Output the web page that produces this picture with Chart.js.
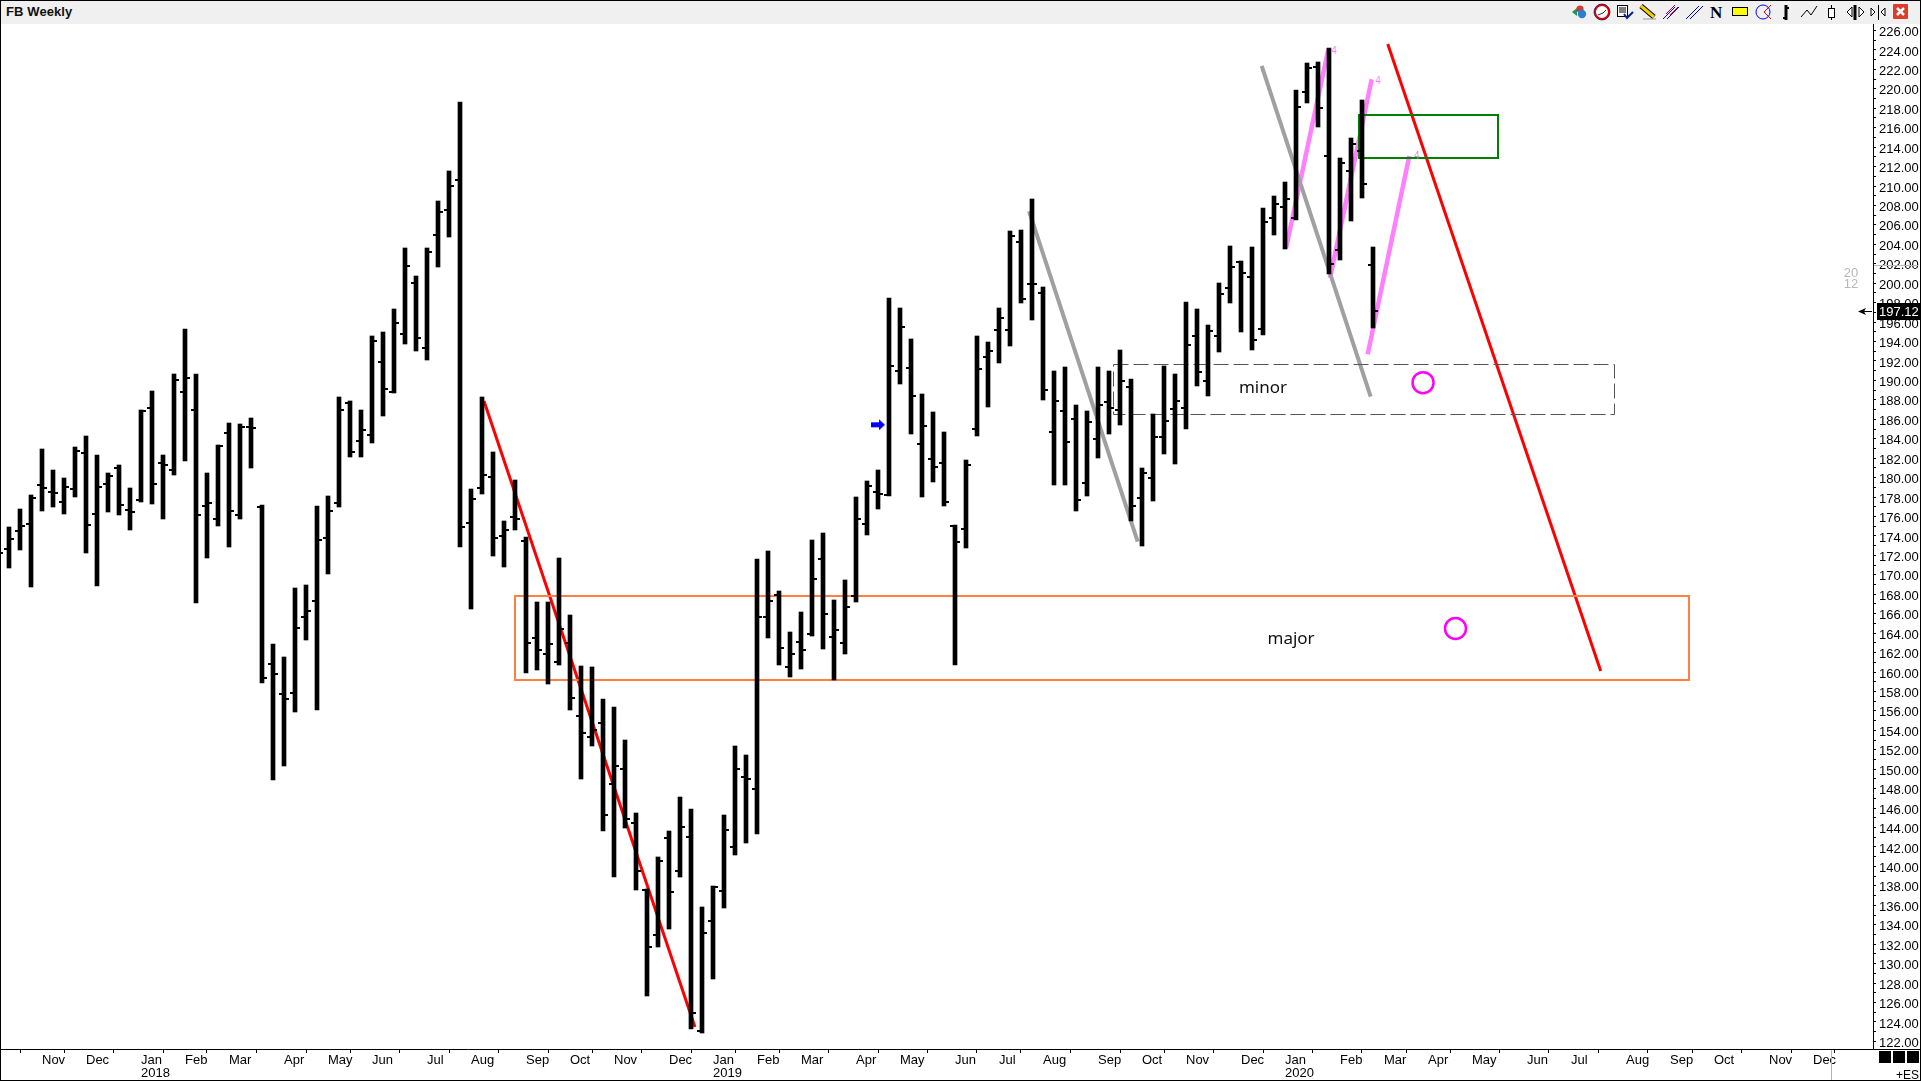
<!DOCTYPE html>
<html>
<head>
<meta charset="utf-8">
<title>FB Weekly</title>
<script src="https://cdn.jsdelivr.net/npm/chart.js@4/dist/chart.umd.min.js"></script>
<style>
  html, body { margin:0; padding:0; background:#fff; overflow:hidden; }
  #wrap { position:relative; width:1921px; height:1081px; }
  #chart { position:absolute; left:0; top:0; }
  .abs { position:absolute; }
  #head { left:0; top:0; width:1921px; height:24px; background:#f0f0f0; }
  #title { left:6px; top:4px; font:bold 13px "Liberation Sans", sans-serif; letter-spacing:.1px; color:#111; }
  #frame { left:0; top:0; width:1921px; height:1081px; box-sizing:border-box; border:1px solid #000; pointer-events:none; }
  #es { right:2px; top:1068px; font:12px "Liberation Sans", sans-serif; color:#000; }
</style>
</head>
<body>
<div id="wrap">
  <canvas id="chart" width="1921" height="1081"></canvas>
  <div id="head" class="abs"></div>
  <div id="title" class="abs">FB Weekly</div>
  <svg class="abs" style="left:0;top:0" width="1921" height="24">
    <!-- toolbar -->
    <path d="M1572 12l5-4v8z" fill="#1a9a4a"/><circle cx="1580" cy="9" r="3.6" fill="#d23a3a"/><circle cx="1582" cy="14" r="4.2" fill="#2a7fd0"/>
    <circle cx="1602" cy="12" r="7" fill="#fff" stroke="#e00000" stroke-width="2"/><circle cx="1602" cy="12" r="8" fill="none" stroke="#101060" stroke-width=".7"/><path d="M1598 15l5-2 3-3" fill="none" stroke="#333"/>
    <rect x="1617.5" y="5.5" width="10" height="11" fill="#fff" stroke="#000"/><path d="M1619 8h7M1619 10h7M1619 12h7" stroke="#000"/><path d="M1624 14l3 4 6-6" fill="none" stroke="#0b1f8a" stroke-width="2"/>
    <path d="M1641 6l13 11" stroke="#000" stroke-width="5"/><path d="M1641 6l13 11" stroke="#f0d000" stroke-width="3"/><path d="M1643 19h13" stroke="#999"/>
    <path d="M1663 19l12-12M1667 19l12-12" stroke="#0000ff"/><path d="M1666 14l9-9M1670 15l8-8" stroke="#e00000"/>
    <path d="M1686 19l13-13M1690 19l13-13" stroke="#0000ff"/>
    <text x="1710" y="18" font-family="Liberation Serif" font-weight="bold" font-size="17" fill="#000">N</text>
    <rect x="1732.5" y="7.5" width="15" height="8" fill="#ffff00" stroke="#000"/>
    <circle cx="1763" cy="12" r="7" fill="none" stroke="#0000ff"/><path d="M1771 5l-7 7 7 7" fill="none" stroke="#e00000"/>
    <path d="M1786 5v15" stroke="#000" stroke-width="3"/><path d="M1787 8h2M1783 18h2" stroke="#000" stroke-width="2"/>
    <path d="M1801 17l6-7 4 5 6-9" fill="none" stroke="#000"/>
    <path d="M1831.5 5v15" stroke="#000"/><rect x="1828.5" y="8.5" width="6" height="9" fill="#fff" stroke="#000"/>
    <path d="M1852 7l-5 5 5 5zM1859 7l5 5-5 5z" fill="#fff" stroke="#000"/><path d="M1855 5v15" stroke="#000" stroke-width="3"/>
    <path d="M1871 8l4 4-4 4zM1885 8l-4 4 4 4z" fill="#fff" stroke="#000"/><path d="M1878.5 5v15" stroke="#000"/>
    <rect x="1893" y="4" width="15" height="15" rx="1" fill="#e03a28"/><path d="M1897 8l7 7M1904 8l-7 7" stroke="#fff" stroke-width="2.5"/>
  </svg>
  <div class="abs" style="left:1873px;top:1049px;width:48px;height:1px;background:#000"></div>
  <div class="abs" style="left:1831px;top:1050px;width:1px;height:30px;background:#b4b4b4"></div>
  <div class="abs" style="left:1879px;top:1051px;width:12px;height:12px;background:#000"></div>
  <div class="abs" style="left:1893px;top:1051px;width:12px;height:12px;background:#000"></div>
  <div class="abs" style="left:1907px;top:1051px;width:12px;height:12px;background:#000"></div>
  <div id="es" class="abs">+ES</div>
  <div id="frame" class="abs"></div>
</div>
<script>
// weekly bars, first one sits just off the left edge
const highs = [173.5,
  174.92,176.77,178.18,182.95,180.79,179.96,183.15,184.28,182.33,180.48,
  181.30,178.93,186.96,188.91,182.33,190.66,195.29,190.66,180.48,183.36,
  185.62,185.52,186.14,177.19,162.89,161.55,168.65,168.96,177.08,178.11,
  188.30,187.89,186.96,194.57,194.98,197.35,203.63,200.75,203.63,208.46,
  211.55,218.65,178.83,188.30,182.64,175.54,179.76,173.89,167.21,167.21,
  171.73,165.87,160.62,160.52,157.23,156.40,153.01,145.50,137.68,140.97,
  143.65,147.14,145.91,135.83,137.99,145.29,152.39,151.47,171.63,172.45,
  168.34,164.12,166.18,173.58,174.30,167.41,169.47,178.01,179.65,180.79,
  198.48,197.45,194.26,188.61,186.75,184.70,175.13,181.82,194.57,193.95,
  197.45,205.37,205.48,208.67,199.61,190.97,191.38,187.47,186.86,191.38,
  190.97,193.13,190.15,180.99,186.55,191.49,190.66,198.07,197.35,195.70,
  200.02,203.83,202.29,203.73,207.74,208.98,210.42,219.88,222.66,222.76,
  224.20,212.88,214.94,218.85,203.73];
const lows = [168.5,
  170.74,172.59,168.78,176.60,177.01,176.29,178.04,172.28,168.88,176.50,
  176.19,174.64,177.53,177.32,175.78,180.30,181.74,167.13,171.76,175.06,
  172.90,175.78,181.02,158.90,148.93,150.36,155.92,163.33,156.13,170.12,
  177.01,182.15,182.15,183.60,186.37,188.74,193.78,193.06,192.13,201.67,
  204.76,172.90,166.52,178.35,171.97,170.84,174.64,159.93,160.24,158.80,
  160.76,156.13,149.03,152.42,143.68,138.94,143.99,137.61,126.70,131.74,
  133.60,138.94,123.31,122.90,128.45,135.76,141.21,142.44,143.37,163.53,
  160.76,159.52,160.34,163.74,162.40,159.21,161.89,167.24,174.13,176.80,
  178.14,189.67,184.52,178.04,179.58,177.11,160.72,172.79,184.32,187.30,
  191.83,193.57,198.00,196.25,188.02,179.27,179.27,176.60,178.14,182.05,
  184.52,185.45,175.57,173.00,177.63,182.46,181.43,185.04,189.46,188.43,
  192.96,198.00,195.01,193.16,194.71,204.99,203.55,206.48,218.57,216.11,
  200.95,202.42,206.43,208.80,195.43];
const opens = [172.8,
  172.66,174.54,175.26,179.27,178.52,177.49,178.83,182.54,176.26,179.35,
  180.99,176.67,177.70,187.16,181.51,180.79,188.81,186.96,177.08,175.75,
  184.59,176.16,185.21,176.98,160.83,157.74,157.84,165.66,167.31,173.79,
  177.39,187.68,183.77,184.39,191.90,188.81,194.78,200.02,193.34,204.96,
  207.54,210.62,175.33,178.97,180.07,174.00,175.95,173.48,163.50,161.86,
  161.03,162.99,155.48,153.35,154.76,148.48,150.06,144.47,137.58,132.95,
  142.93,139.53,143.03,123.10,134.39,137.47,142.00,149.20,147.97,165.66,
  167.93,160.52,163.09,163.91,171.63,163.61,162.99,167.82,175.23,178.52,
  178.21,190.97,191.28,183.46,181.92,181.51,175.06,174.75,185.04,192.44,
  195.19,195.22,204.24,199.92,199.00,184.70,186.89,186.03,179.48,184.01,
  187.81,186.96,189.36,177.91,179.99,184.18,187.06,187.17,194.60,189.94,
  194.60,199.51,202.22,200.64,195.29,206.71,207.84,206.71,219.71,222.25,
  213.09,203.42,211.55,213.61,201.88];
const closes = [172.25,
  173.69,175.03,177.94,178.93,178.45,179.04,182.74,175.13,179.04,180.17,
  177.19,176.47,186.86,179.35,181.30,190.05,190.25,176.16,177.39,183.26,
  176.57,185.21,185.11,159.39,159.80,157.23,164.53,166.28,173.58,176.57,
  186.96,182.64,184.90,194.06,189.12,195.91,201.77,194.37,203.21,207.33,
  210.00,174.92,177.80,180.27,173.79,174.61,175.75,162.99,162.27,162.89,
  164.43,157.33,153.73,154.04,145.29,150.33,144.88,139.53,131.71,140.56,
  137.37,144.06,124.92,133.15,137.89,143.75,150.03,149.00,165.66,167.31,
  162.47,161.86,162.27,169.57,165.97,164.33,166.69,175.75,179.14,178.32,
  191.49,195.50,188.40,185.31,181.10,177.49,173.41,181.30,191.18,193.03,
  196.45,204.86,198.41,199.92,189.02,187.92,183.67,177.70,185.76,187.47,
  187.17,189.94,177.11,180.51,184.18,185.83,187.92,193.68,190.87,195.09,
  198.89,201.67,201.05,194.16,206.30,208.15,208.67,218.13,222.14,218.03,
  201.98,212.40,214.33,210.24,197.12];

// x axis: week number of each month label
const monthWeeks = [4,8,13,17,21,26,30,34,39,43,48,52,56,61,65,69,73,78,82,87,91,95,100,104,108,113,117,122,126,130,134,139,143,148,152,156,161,165];
const monthNames = ['Nov','Dec','Jan','Feb','Mar','Apr','May','Jun','Jul','Aug','Sep','Oct','Nov','Dec','Jan','Feb','Mar','Apr','May','Jun','Jul','Aug','Sep','Oct','Nov','Dec','Jan','Feb','Mar','Apr','May','Jun','Jul','Aug','Sep','Oct','Nov','Dec'];
const yearAtWeek = {13:'2018', 65:'2019', 117:'2020'};

// y axis
const priceTicks = [];
for (let p = 122; p <= 226; p++) priceTicks.push(p);
const lastPrice = 197.12;

// drawn trend lines [week, price]
const redLine1 = [[44.18,187.89],[63.36,123.48]];
const redLine2 = [[126.34,224.61],[145.7,160.1]];
const grayLine1 = [[93.73,207.43],[103.61,173.41]];
const grayLine2 = [[114.88,222.35],[124.79,188.33]];
const pinkLine1 = [[117.09,203.59],[120.94,224.07]];
const pinkLine2 = [[121.09,200.54],[124.88,220.98]];
const pinkLine3 = [[124.52,192.69],[128.30,213.09]];
// zones [week from, week to, price top, price bottom]
const majorZone = [47,153.7,167.82,159.18];
const minorZone = [101.34,146.88,191.66,186.52];
const greenZone = [123.73,136.34,217.31,212.92];
const targetCircles = [[129.55,189.77],[132.5,164.48]];
const blueArrow = [[80,185.49]];
const chartNotes = [
  {x:115, y:189.22, text:'minor', font:'17px "Noto Sans"', color:'#111'},
  {x:117.55, y:163.38, text:'major', font:'17px "Noto Sans"', color:'#111'},
  {x:121.45, y:223.89, text:'4', font:'10px "Liberation Sans"', color:'#ff80ff'},
  {x:125.45, y:220.81, text:'4', font:'10px "Liberation Sans"', color:'#ff80ff'},
  {x:128.97, y:213.02, text:'4', font:'10px "Liberation Sans"', color:'#d890d8'}
];

function toPts(arr){ return arr.map(a=>({x:a[0], y:a[1]})); }
function zonePts(z){
  return [{x:z[0],y:z[2]},{x:z[1],y:z[2]},{x:z[1],y:z[3]},{x:z[0],y:z[3]},{x:z[0],y:z[2]}];
}
function lineDs(pts, color, width, extra){
  return Object.assign({type:'scatter', data:pts, showLine:true, borderColor:color, borderWidth:width,
    pointRadius:0, order:3, fill:false}, extra||{});
}
// little images used as point styles: the open / close dashes and the blue arrow
function tickImage(side){
  const c = document.createElement('canvas'); c.width = 10; c.height = 2;
  const g = c.getContext('2d'); g.fillStyle = '#000';
  g.fillRect(side === 'open' ? 0 : 5, 0, 5, 2);
  return c;
}
function arrowImage(){
  const c = document.createElement('canvas'); c.width = 14; c.height = 12;
  const g = c.getContext('2d'); g.fillStyle = '#0000ff';
  g.fillRect(0, 4, 9, 5);
  g.beginPath(); g.moveTo(8,1); g.lineTo(14,6.5); g.lineTo(8,12); g.closePath(); g.fill();
  return c;
}

const snapPlugin = {
  id:'snap',
  afterDatasetsUpdate(chart){
    chart.data.datasets.forEach((ds,i)=>{
      const meta = chart.getDatasetMeta(i);
      if (ds.snap === 'bar') meta.data.forEach(el=>{ el.x = Math.round(el.x); el.y = Math.round(el.y); el.base = Math.round(el.base); });
      if (ds.snap === 'even') meta.data.forEach(el=>{ el.x = Math.round(el.x); el.y = Math.round(el.y); });
      if (ds.snap === 'odd') meta.data.forEach(el=>{ el.x = Math.round(el.x)+.5; el.y = Math.round(el.y)+.5; });
    });
  }
};

const notesPlugin = {
  id:'notes',
  afterDraw(chart){
    const {ctx, scales:{x,y}} = chart;
    ctx.save();
    ctx.textAlign = 'center'; ctx.textBaseline = 'middle';
    chartNotes.forEach(n=>{
      ctx.font = n.font; ctx.fillStyle = n.color;
      ctx.fillText(n.text, x.getPixelForValue(n.x), y.getPixelForValue(n.y));
    });
    // period numbers near the scale
    ctx.font = '13px "Liberation Sans"'; ctx.fillStyle = '#b8b8b8';
    ctx.fillText('20', 1851, 273); ctx.fillText('12', 1851, 284);
    ctx.strokeStyle = '#b8b8b8'; ctx.lineWidth = 1;
    ctx.beginPath(); ctx.moveTo(1874, 265.5); ctx.lineTo(1918, 265.5); ctx.stroke();
    // last price tag
    const py = Math.round(y.getPixelForValue(lastPrice));
    ctx.fillStyle = '#000';
    ctx.fillRect(1877, py-8, 44, 17);
    ctx.beginPath(); ctx.moveTo(1858, py+.5); ctx.lineTo(1866, py-3); ctx.lineTo(1864, py+.5); ctx.lineTo(1866, py+4); ctx.closePath(); ctx.fill();
    ctx.fillRect(1862, py, 10, 1);
    ctx.fillStyle = '#fff'; ctx.font = '13px "Liberation Sans"'; ctx.textAlign = 'left';
    ctx.fillText(lastPrice.toFixed(2), 1879, py+1);
    ctx.restore();
  }
};

function noPadding(s){ s.paddingLeft = 0; s.paddingRight = 0; s.paddingTop = 0; s.paddingBottom = 0; }

const weeks = highs.map((_,i)=>i);

new Chart(document.getElementById('chart'), {
  type:'bar',
  plugins:[snapPlugin, notesPlugin],
  data:{
    datasets:[
      {type:'bar', data:weeks.map(i=>({x:i, y:[lows[i], highs[i]]})), backgroundColor:'#000',
       barThickness:4, grouped:false, order:1, snap:'bar'},
      {type:'scatter', data:weeks.map(i=>({x:i, y:opens[i]})), pointStyle:tickImage('open'), pointRadius:5, order:0, snap:'even'},
      {type:'scatter', data:weeks.map(i=>({x:i, y:closes[i]})), pointStyle:tickImage('close'), pointRadius:5, order:0, snap:'even'},
      lineDs(zonePts(majorZone), '#ff8040', 2, {snap:'even', borderCapStyle:'square'}),
      lineDs(zonePts(minorZone), '#555555', 1, {snap:'odd', borderDash:[15,5]}),
      lineDs(zonePts(greenZone), '#008000', 2, {snap:'even', borderCapStyle:'square'}),
      lineDs(toPts(grayLine1), '#a0a0a0', 4),
      lineDs(toPts(grayLine2), '#a0a0a0', 4),
      lineDs(toPts(pinkLine1), '#ff80ff', 4.5),
      lineDs(toPts(pinkLine2), '#ff80ff', 4.5),
      lineDs(toPts(pinkLine3), '#ff80ff', 4.5),
      lineDs(toPts(redLine1), '#ff0000', 3),
      lineDs(toPts(redLine2), '#ff0000', 3),
      {type:'scatter', data:toPts(targetCircles), pointStyle:'circle', pointRadius:10.5, pointBorderWidth:2.5,
       pointBorderColor:'#ff00ff', pointBackgroundColor:'rgba(0,0,0,0)', order:2},
      {type:'scatter', data:toPts(blueArrow), pointStyle:arrowImage(), pointRadius:5, order:2}
    ]
  },
  options:{
    responsive:false,
    animation:false,
    events:[],
    layout:{autoPadding:false, padding:{left:0, right:0, top:24, bottom:0}},
    plugins:{legend:{display:false}, tooltip:{enabled:false}},
    scales:{
      x:{
        type:'linear', position:'bottom', offset:false,
        min:2/11, max:1875/11,
        afterFit(s){ s.height = 32; noPadding(s); },
        afterBuildTicks(s){ s.ticks = monthWeeks.map(v=>({value:v})); },
        grid:{drawOnChartArea:false, drawTicks:true, tickLength:4, color:'#000', tickWidth:1},
        border:{color:'#000', width:1},
        ticks:{
          autoSkip:false, maxRotation:0, minRotation:0, align:'start', padding:1, color:'#000',
          font:{family:'"Liberation Sans"', size:13, lineHeight:1},
          callback(v, i){ return yearAtWeek[v] ? [monthNames[i], yearAtWeek[v]] : monthNames[i]; }
        }
      },
      y:{
        type:'linear', position:'right',
        min:121.216, max:226.669,
        afterFit(s){ s.width = 48; noPadding(s); },
        afterBuildTicks(s){ s.ticks = priceTicks.map(v=>({value:v})); },
        grid:{drawOnChartArea:false, drawTicks:true, tickLength:3, color:'#000', tickWidth:1},
        border:{color:'#000', width:1},
        ticks:{
          autoSkip:false, padding:3, color:'#000', labelOffset:2,
          font:{family:'"Liberation Sans"', size:13},
          callback(v){ return v % 2 === 0 ? v.toFixed(2) : ''; }
        }
      }
    }
  }
});
</script>
</body>
</html>
